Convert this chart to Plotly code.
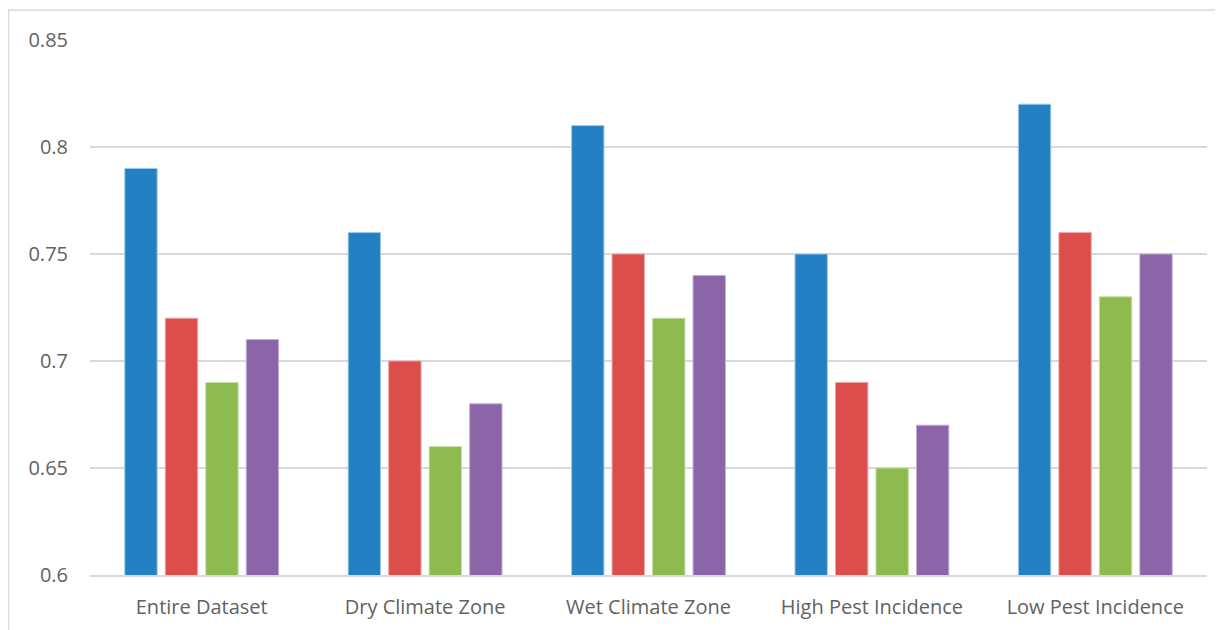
import plotly.graph_objects as go

categories = ["Entire Dataset", "Dry Climate Zone", "Wet Climate Zone", "High Pest Incidence", "Low Pest Incidence"]
series_names = ["Series 1", "Series 2", "Series 3", "Series 4"]
series1 = [0.79, 0.76, 0.81, 0.75, 0.82]
series2 = [0.72, 0.70, 0.75, 0.69, 0.76]
series3 = [0.69, 0.66, 0.72, 0.65, 0.73]
series4 = [0.71, 0.68, 0.74, 0.67, 0.75]
colors = ["#2280C3", "#DC4E4C", "#8DBB4F", "#8A65A7"]
outline = ["#9CCBEB", "#F0A5A4", "#C5DFA4", "#C3AED6"]

fig = go.Figure()
for name, vals, c, o in zip(series_names, [series1, series2, series3, series4], colors, outline):
    fig.add_trace(go.Bar(x=categories, y=vals, name=name, marker=dict(color=c, line=dict(color=o, width=1))))

fig.update_layout(
    width=1223, height=630,
    margin=dict(l=82, r=24, t=32, b=63),
    paper_bgcolor="white", plot_bgcolor="white",
    barmode="group", bargap=0.275, bargroupgap=0.2,
    showlegend=False,
    font=dict(family="Open Sans, sans-serif", color="#626262", size=20),
    xaxis=dict(showline=True, linecolor="#d9d9d9", linewidth=1.5, ticks="", ticklabelstandoff=13,
               tickfont=dict(size=20, color="#626262")),
    yaxis=dict(range=[0.6, 0.85], dtick=0.05, tick0=0.6, showgrid=True, gridcolor="#d9d9d9", gridwidth=1.5,
               zeroline=False, ticks="", ticklabelstandoff=21, tickfont=dict(size=20, color="#626262")),
)
fig.add_shape(type="rect", xref="paper", yref="paper", x0=-0.073, x1=1.1, y0=-0.3, y1=1.056,
              line=dict(color="#d9d9d9", width=1.5), fillcolor="rgba(0,0,0,0)", layer="below")

fig.write_html("out.html")
